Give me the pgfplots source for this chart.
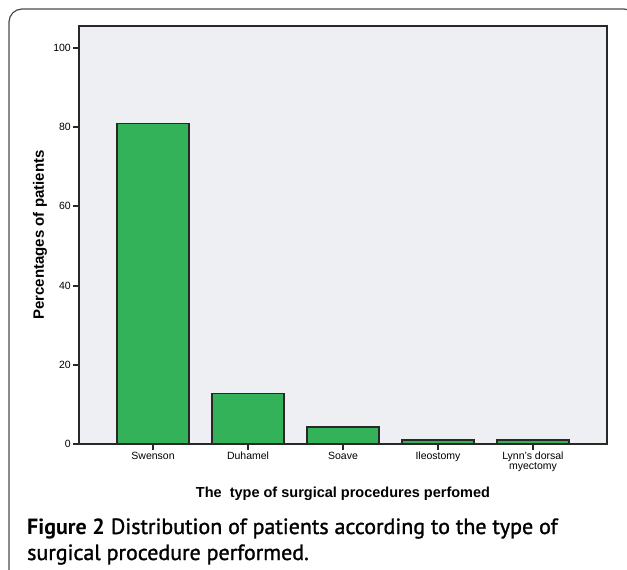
\documentclass[border=0pt]{standalone}
\usepackage{pgfplots}
\pgfplotsset{compat=1.18}
\usepackage{fontspec}
\setmainfont{Liberation Sans}
\newfontfamily\capfont{PT Sans}
\newfontfamily\capmed[FakeBold=1.3]{PT Sans}

\definecolor{barfill}{RGB}{51,178,90}
\definecolor{plotbg}{RGB}{238,239,242}
\definecolor{edge}{RGB}{40,40,40}

\begin{document}
\begin{tikzpicture}
% page = 627 x 570 px, 1px = 1pt, y downwards is negative
\path[use as bounding box] (0pt,0pt) rectangle (627pt,-570pt);
\draw[rounded corners=13pt, line width=1.2pt, black!70] (9pt,-9pt) rectangle (637pt,-600pt);

\begin{axis}[
    at={(79pt,-444pt)}, anchor=south west,
    scale only axis,
    width=528pt, height=418pt,
    axis background/.style={fill=plotbg},
    axis line style={edge, line width=1.6pt},
    xmin=-0.78, xmax=4.78,
    ymin=0, ymax=105.5,
    ytick={0,20,40,60,80,100},
    xtick={0,1,2,3,4},
    xticklabels={Swenson, Duhamel, Soave, Ileostomy, {Lynn's dorsal\\[-2pt]myectomy}},
    xticklabel style={align=center, font=\fontsize{10.5}{11.5}\selectfont, inner sep=2pt},
    yticklabel style={font=\fontsize{10.5}{11.5}\selectfont, inner sep=2pt},
    /pgf/number format/assume math mode=true,
    tick align=outside,
    major tick length=6pt,
    tick style={edge, line width=2pt},
    xtick pos=bottom, ytick pos=left,
    xlabel={The\ \ type of surgical procedures perfomed},
    ylabel={Percentages of patients},
    xlabel style={font=\bfseries\fontsize{14.5}{16}\selectfont, at={(axis description cs:0.5,0)}, anchor=base, yshift=-53pt},
    ylabel style={font=\bfseries\fontsize{15}{16}\selectfont, at={(axis description cs:-0.074,0.5)}, anchor=center},
    ybar, bar width=0.76,
    clip=false,
]
\addplot[fill=barfill, draw=edge, line width=1.5pt] coordinates {
    (0,80.85) (1,12.77) (2,4.26) (3,1.06) (4,1.06)
};
\end{axis}

\node[anchor=base west, inner sep=0pt, font=\fontsize{22}{26}\selectfont] at (27pt,-534pt)
    {{\capfont\bfseries Figure 2} {\capmed Distribution of patients according to the type of}};
\node[anchor=base west, inner sep=0pt, font=\capmed\fontsize{22}{26}\selectfont] at (27pt,-560pt)
    {surgical procedure performed.};
\end{tikzpicture}
\end{document}
